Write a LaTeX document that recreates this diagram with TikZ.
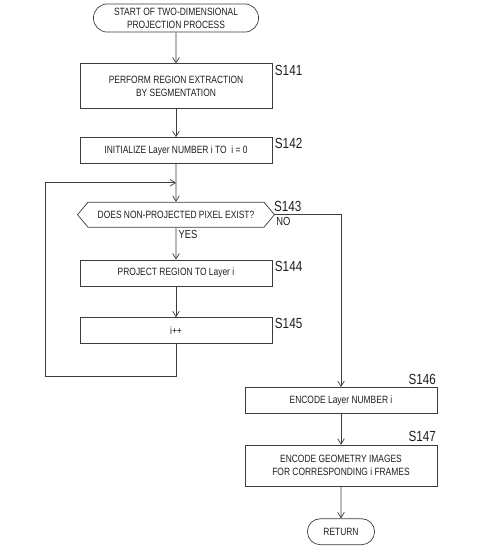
\documentclass[tikz,border=0pt]{standalone}
\usepackage{fontspec}
\setmainfont{Liberation Sans}[FakeStretch=0.8]
\usepackage{tikz}
\usetikzlibrary{shapes.geometric, shapes.misc, shapes.symbols, arrows.meta, positioning, calc}
\definecolor{cLine}{RGB}{60,60,60}
\definecolor{cText}{RGB}{30,30,30}
\tikzset{
  basebox/.style={rectangle, draw=cLine, line width=0.6pt, align=center,
                  text=cText, font=\fontsize{9}{11}\selectfont},
  stepbox/.style={basebox, minimum width=5.76cm, minimum height=0.78cm},
  termnode/.style={basebox, rounded rectangle, minimum height=0.78cm},
  decisionnode/.style={basebox, signal, signal to=west and east,
                       signal pointer angle=100, minimum width=5.91cm,
                       minimum height=0.75cm, inner xsep=0pt},
  steplabel/.style={text=cText, font=\fontsize{12.5}{14}\selectfont, inner sep=1pt},
  branchlabel/.style={text=cText, font=\fontsize{10}{12}\selectfont, inner sep=1pt},
  arrow/.style={-{Straight Barb[length=1.6mm, width=2mm]}, line width=0.6pt, draw=cLine}
}
\begin{document}
\begin{tikzpicture}[node distance=0.93cm]
  \useasboundingbox (0,0) rectangle (14.88,-16.59);

  % Main column
  \node[termnode, minimum width=5.19cm] (start) at (5.28,-0.54)
      {START OF TWO-DIMENSIONAL\\PROJECTION PROCESS};
  \node[stepbox, minimum height=1.35cm, below=0.93cm of start] (s141)
      {PERFORM REGION EXTRACTION\\BY SEGMENTATION};
  \node[stepbox, below=0.84cm of s141] (s142)
      {INITIALIZE Layer NUMBER i TO \ i = 0};
  \node[decisionnode, below=1.14cm of s142] (dec)
      {DOES NON-PROJECTED PIXEL EXIST?};
  \node[stepbox, below=0.96cm of dec] (s144)
      {PROJECT REGION TO Layer i};
  \node[stepbox, below=of s144] (s145) {i++};

  % Right column
  \node[stepbox, below=1.29cm of s145, xshift=4.95cm] (s146)
      {ENCODE Layer NUMBER i};
  \node[stepbox, minimum height=1.23cm, below=of s146] (s147)
      {ENCODE GEOMETRY IMAGES\\FOR CORRESPONDING i FRAMES};
  \node[termnode, minimum width=2.25cm, below=0.96cm of s147] (ret) {RETURN};

  % Step labels
  \node[steplabel, anchor=north west] at ([xshift=1pt]s141.north east) {S141};
  \node[steplabel, anchor=north west] at ([xshift=1pt]s142.north east) {S142};
  \node[steplabel, anchor=south west] at ([xshift=-2pt,yshift=1pt]dec.east) {S143};
  \node[steplabel, anchor=north west] at ([xshift=1pt]s144.north east) {S144};
  \node[steplabel, anchor=north west] at ([xshift=1pt]s145.north east) {S145};
  \node[steplabel, anchor=south east] at ([yshift=1pt]s146.north east) {S146};
  \node[steplabel, anchor=south east] at ([yshift=1pt]s147.north east) {S147};
  \node[branchlabel, anchor=north west] at ([yshift=-1pt]dec.east) {NO};
  \node[branchlabel, anchor=north west] at ([xshift=1pt,yshift=-1pt]dec.south) {YES};

  \coordinate (merge) at ($(s142.south)!0.5!(dec.north)$);

  % Connectors
  \draw[arrow] (start) -- (s141);
  \draw[arrow] (s141) -- (s142);
  \draw[arrow] (s142) -- (dec);
  \draw[arrow] (dec) -- (s144);
  \draw[arrow] (s144) -- (s145);
  \draw[arrow] (s145.south) |- ++(-3.93,-0.96) |- (merge);
  \draw[arrow] (dec.east) -| (s146.north);
  \draw[arrow] (s146) -- (s147);
  \draw[arrow] (s147) -- (ret);

\end{tikzpicture}
\end{document}
